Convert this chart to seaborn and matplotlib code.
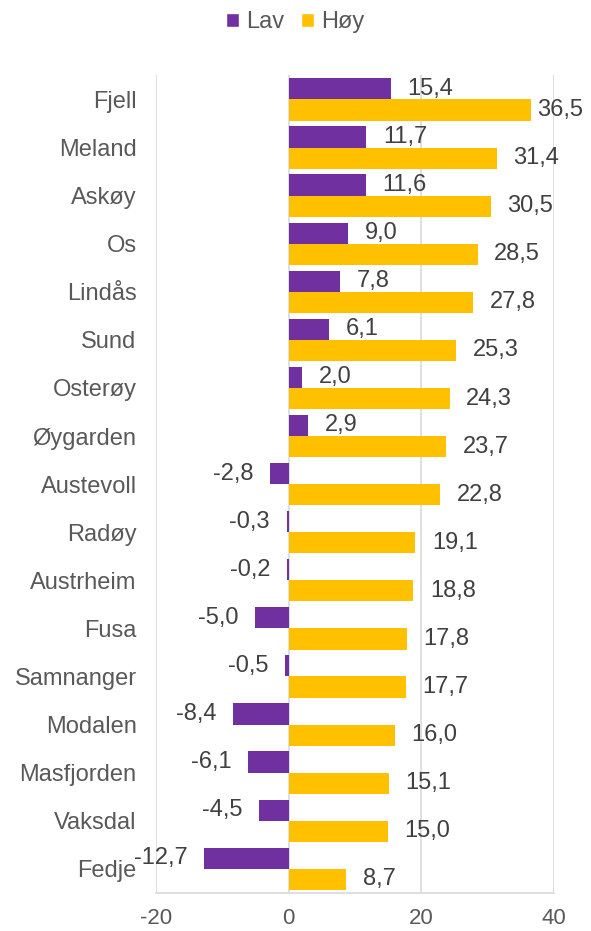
import pandas as pd
import seaborn as sns
import matplotlib.pyplot as plt
from matplotlib.patches import Patch

kommuner = ['Fjell', 'Meland', 'Askøy', 'Os', 'Lindås', 'Sund', 'Osterøy', 'Øygarden',
            'Austevoll', 'Radøy', 'Austrheim', 'Fusa', 'Samnanger', 'Modalen',
            'Masfjorden', 'Vaksdal', 'Fedje']
lav = [15.4, 11.7, 11.6, 9.0, 7.8, 6.1, 2.0, 2.9, -2.8, -0.3, -0.2, -5.0, -0.5, -8.4, -6.1, -4.5, -12.7]
hoy = [36.5, 31.4, 30.5, 28.5, 27.8, 25.3, 24.3, 23.7, 22.8, 19.1, 18.8, 17.8, 17.7, 16.0, 15.1, 15.0, 8.7]
serier = ['Lav', 'Høy']
farger = ['#7030A0', '#FFC000']
xticks = [-20, 0, 20, 40]

df = pd.DataFrame({
    'kommune': kommuner * 2,
    'verdi': lav + hoy,
    'serie': ['Lav'] * len(kommuner) + ['Høy'] * len(kommuner),
})

sns.set_style('white')
plt.rcParams['font.family'] = ['Liberation Sans', 'DejaVu Sans']
txt = '#595959'

fig = plt.figure(figsize=(5.91, 9.31), dpi=100)
ax = fig.add_axes([0.264, 0.041, 0.673, 0.878])
sns.barplot(data=df, y='kommune', x='verdi', hue='serie', hue_order=serier,
            palette=farger, orient='h', width=0.88, ax=ax, legend=False,
            saturation=1, edgecolor='none')

# dataetiketter utenfor enden av hver stolpe
etiketter = []
for cont in ax.containers:
    for bar in cont:
        v = bar.get_width()
        yc = bar.get_y() + bar.get_height() / 2
        s = f'{v:.1f}'.replace('.', ',')
        off = -12 if v < 0 else 12
        t = ax.annotate(s, (v, yc), xytext=(off, 0), textcoords='offset points',
                        ha='right' if v < 0 else 'left', va='center', fontsize=17,
                        color='#404040', annotation_clip=False)
        etiketter.append(t)

ax.set_xlim(-20, 40)
ax.set_xticks(xticks)
ax.set_xticklabels([str(t) for t in xticks])
ax.xaxis.grid(True, color='#d9d9d9', linewidth=1.2)
ax.set_axisbelow(True)
ax.set_xlabel('')
ax.set_ylabel('')
for sp in ['top', 'right', 'left']:
    ax.spines[sp].set_visible(False)
ax.spines['bottom'].set_color('#d9d9d9')
ax.spines['bottom'].set_linewidth(1.2)
ax.tick_params(axis='y', length=0, pad=14, labelsize=17, labelcolor=txt)
ax.tick_params(axis='x', length=0, pad=11, labelsize=16, labelcolor=txt)

handles = [Patch(facecolor=c, label=l) for c, l in zip(farger, serier)]
fig.legend(handles=handles, loc='center', bbox_to_anchor=(0.5, 1 - 22 / 931), ncol=2,
           frameon=False, fontsize=17, handlelength=0.55, handleheight=0.55,
           handletextpad=0.3, columnspacing=0.7, labelcolor=txt, borderpad=0)

# flytt etiketter som går ut over høyre kant inn igjen
fig.canvas.draw()
r = fig.canvas.get_renderer()
for t in etiketter:
    bb = t.get_window_extent(r)
    over = bb.x1 - (fig.bbox.width - 8)
    if over > 0:
        x, y = t.xyann
        t.xyann = (x - over * 72 / fig.dpi, y)

fig.savefig('out.png', dpi=100)
